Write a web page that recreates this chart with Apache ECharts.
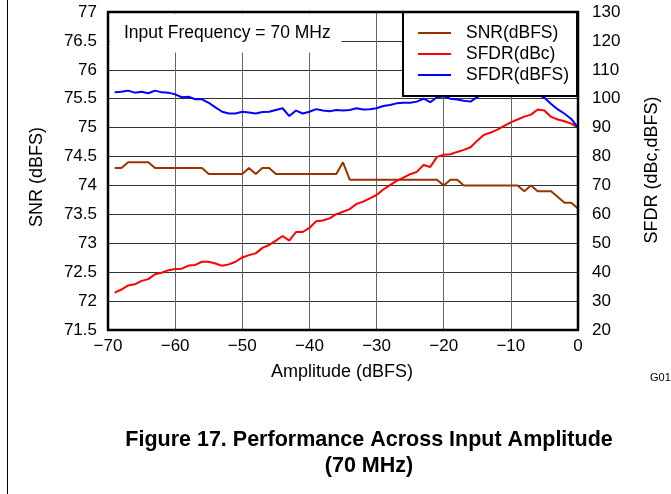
<!DOCTYPE html>
<html>
<head>
<meta charset="utf-8">
<script src="https://cdn.jsdelivr.net/npm/echarts@6/dist/echarts.min.js"></script>
<style>
html,body{margin:0;padding:0;background:#fff;}
#c{width:671px;height:494px;}
</style>
</head>
<body>
<div id="c"></div>
<script>
// Amplitude (dBFS)
const amplitude = [-69,-68,-67,-66,-65,-64,-63,-62,-61,-60,-59,-58,-57,-56,-55,-54,-53,-52,-51,-50,
  -49,-48,-47,-46,-45,-44,-43,-42,-41,-40,-39,-38,-37,-36,-35,-34,-33,-32,-31,-30,
  -29,-28,-27,-26,-25,-24,-23,-22,-21,-20,-19,-18,-17,-16,-15,-14,-13,-12,-11,-10,
  -9,-8,-7,-6,-5,-4,-3,-2,-1,0];
// SNR (dBFS) - left axis
const snr = [74.3,74.3,74.4,74.4,74.4,74.4,74.3,74.3,74.3,74.3,74.3,74.3,74.3,74.3,74.2,74.2,74.2,74.2,74.2,74.2,
  74.3,74.2,74.3,74.3,74.2,74.2,74.2,74.2,74.2,74.2,74.2,74.2,74.2,74.2,74.4,74.1,74.1,74.1,74.1,74.1,
  74.1,74.1,74.1,74.1,74.1,74.1,74.1,74.1,74.1,74.0,74.1,74.1,74.0,74.0,74.0,74.0,74.0,74.0,74.0,74.0,
  74.0,73.9,74.0,73.9,73.9,73.9,73.8,73.7,73.7,73.6];
// SFDR (dBc) - right axis
const sfdrDbc = [32.9,34.0,35.4,35.8,37.0,37.6,39.3,39.8,40.7,41.1,41.2,42.3,42.5,43.6,43.6,43.0,42.2,42.7,43.6,45.1,
  45.9,46.5,48.4,49.4,50.9,52.5,50.9,53.9,53.9,55.3,57.6,57.9,58.6,60.1,60.9,61.8,63.6,64.4,65.5,66.7,
  68.6,70.1,71.6,72.7,73.9,74.7,77.1,76.4,79.9,80.6,80.8,81.6,82.3,83.2,85.5,87.5,88.3,89.3,90.6,91.8,
  92.8,93.8,94.5,96.3,95.9,93.7,92.8,92.2,91.4,90.0];
// SFDR (dBFS) - right axis
const sfdrDbfs = [102.2,102.4,102.8,102.1,102.4,101.9,102.8,102.2,102.1,101.5,100.5,100.7,99.8,99.8,98.6,97.0,95.5,94.9,94.9,95.5,
  95.2,94.9,95.4,95.5,96.1,96.7,94.0,95.9,94.9,95.5,96.4,95.9,95.7,96.1,95.9,96.1,96.7,96.3,96.4,96.7,
  97.5,97.8,98.4,98.6,98.6,99.0,100.0,98.8,100.5,100.8,100.0,99.7,99.3,99.0,100.6,101.5,102.0,102.0,102.3,102.5,
  102.5,102.3,102.0,101.5,100.3,98.2,96.3,94.8,93.0,90.0];
const seriesNames = ['SNR(dBFS)', 'SFDR(dBc)', 'SFDR(dBFS)'];

const FONT = '"Liberation Sans", Arial, sans-serif';
const pair = arr => amplitude.map((x, i) => [x, arr[i]]);
const minus = v => (v < 0 ? '\u2212' + Math.abs(v) : String(v));

const chart = echarts.init(document.getElementById('c'), null, {renderer: 'canvas'});
chart.setOption({
  animation: false,
  backgroundColor: '#fff',
  textStyle: {fontFamily: FONT},
  grid: {left: 108, right: 93, top: 12, bottom: 164, containLabel: false},
  legend: {
    data: seriesNames,
    orient: 'vertical',
    left: 403, top: 12,
    padding: [11, 8, 11, 15],
    itemGap: 1,
    itemWidth: 33, itemHeight: 2,
    icon: 'rect',
    backgroundColor: '#fff',
    borderColor: '#000', borderWidth: 2, borderRadius: 0,
    textStyle: {fontFamily: FONT, fontSize: 17.5, lineHeight: 20, color: '#000', padding: [0, 0, 0, 10]},
    z: 6
  },
  xAxis: {
    type: 'value', min: -70, max: 0, interval: 10,
    axisLine: {show: false}, axisTick: {show: false},
    splitLine: {show: true, lineStyle: {color: '#666', width: 1}},
    axisLabel: {fontFamily: FONT, fontSize: 17, color: '#000', margin: 8, formatter: minus}
  },
  yAxis: [
    {
      type: 'value', min: 71.5, max: 77, interval: 0.5, position: 'left',
      axisLine: {show: false}, axisTick: {show: false},
      splitLine: {show: true, lineStyle: {color: '#333', width: 1}},
      axisLabel: {fontFamily: FONT, fontSize: 17, color: '#000', margin: 11}
    },
    {
      type: 'value', min: 20, max: 130, interval: 10, position: 'right',
      axisLine: {show: false}, axisTick: {show: false},
      splitLine: {show: false},
      axisLabel: {fontFamily: FONT, fontSize: 17, color: '#000', margin: 14}
    }
  ],
  series: [
    {name: seriesNames[0], type: 'line', yAxisIndex: 0, data: pair(snr), symbol: 'none',
     lineStyle: {color: '#993300', width: 2}, itemStyle: {color: '#993300'}},
    {name: seriesNames[1], type: 'line', yAxisIndex: 1, data: pair(sfdrDbc), symbol: 'none',
     lineStyle: {color: '#ff0000', width: 2}, itemStyle: {color: '#ff0000'}},
    {name: seriesNames[2], type: 'line', yAxisIndex: 1, data: pair(sfdrDbfs), symbol: 'none',
     lineStyle: {color: '#0000ff', width: 2}, itemStyle: {color: '#0000ff'}}
  ],
  graphic: [
    {type: 'line', shape: {x1: 7.5, y1: 0, x2: 7.5, y2: 494}, style: {stroke: '#000', lineWidth: 1}, z: 10},
    {type: 'rect', shape: {x: 109.5, y: 13.5, width: 232, height: 39}, style: {fill: '#fff'}, z: 5},
    {type: 'text', x: 124, y: 33, z: 6,
     style: {text: 'Input Frequency = 70 MHz', font: '17.5px ' + FONT, fill: '#000', textAlign: 'left', textVerticalAlign: 'middle'}},
    {type: 'rect', shape: {x: 108, y: 12, width: 470, height: 318}, style: {fill: null, stroke: '#000', lineWidth: 2.5}, z: 20},
    {type: 'text', x: 37, y: 177, rotation: Math.PI / 2, z: 6,
     style: {text: 'SNR (dBFS)', font: '18px ' + FONT, fill: '#000', textAlign: 'center', textVerticalAlign: 'middle'}},
    {type: 'text', x: 652, y: 170, rotation: Math.PI / 2, z: 6,
     style: {text: 'SFDR (dBc,dBFS)', font: '18px ' + FONT, fill: '#000', textAlign: 'center', textVerticalAlign: 'middle'}},
    {type: 'text', x: 342, y: 372, z: 6,
     style: {text: 'Amplitude (dBFS)', font: '18px ' + FONT, fill: '#000', textAlign: 'center', textVerticalAlign: 'middle'}},
    {type: 'text', x: 650, y: 378, z: 6,
     style: {text: 'G017', font: '11px ' + FONT, fill: '#000', textAlign: 'left', textVerticalAlign: 'middle'}},
    {type: 'text', x: 369, y: 440, z: 6,
     style: {text: 'Figure 17. Performance Across Input Amplitude', font: 'bold 21.5px ' + FONT, fill: '#000', textAlign: 'center', textVerticalAlign: 'middle'}},
    {type: 'text', x: 369, y: 466, z: 6,
     style: {text: '(70 MHz)', font: 'bold 21.5px ' + FONT, fill: '#000', textAlign: 'center', textVerticalAlign: 'middle'}}
  ]
});
</script>
</body>
</html>
